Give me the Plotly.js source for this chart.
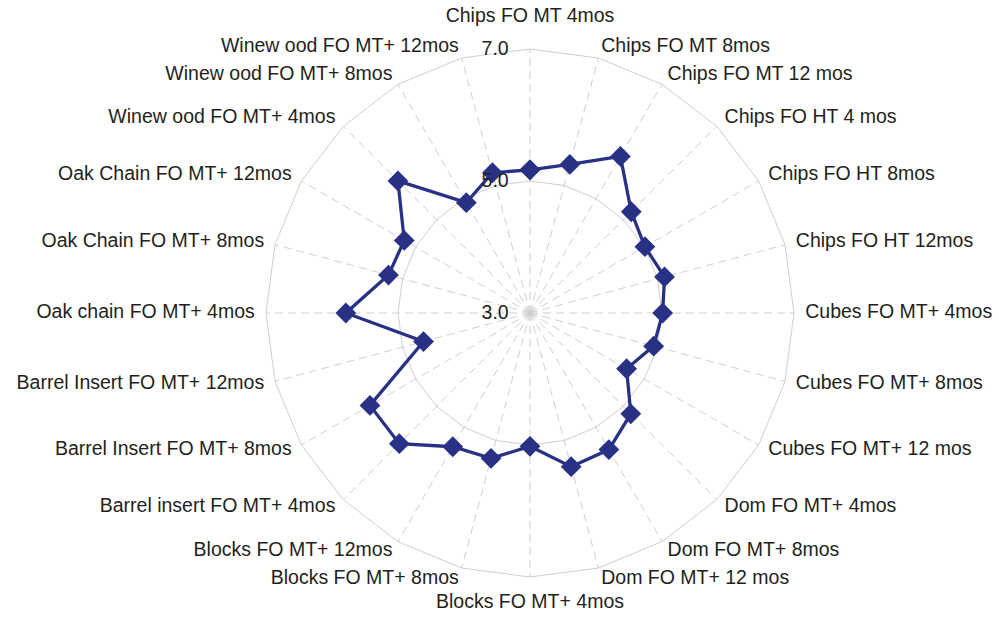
<!DOCTYPE html>
<html>
<head>
<meta charset="utf-8">
<script src="https://cdn.plot.ly/plotly-3.0.1.min.js"></script>
<style>html,body{margin:0;padding:0;background:#fff;}#chart{width:999px;height:618px;}</style>
</head>
<body>
<div id="chart"></div>
<script>
var categories = [
  "Chips FO MT 4mos", "Chips FO MT 8mos", "Chips FO MT 12 mos",
  "Chips FO HT 4 mos", "Chips FO HT 8mos", "Chips FO HT 12mos",
  "Cubes FO MT+ 4mos", "Cubes FO MT+ 8mos", "Cubes FO MT+ 12 mos",
  "Dom FO MT+ 4mos", "Dom FO MT+ 8mos", "Dom FO MT+ 12 mos",
  "Blocks FO MT+ 4mos", "Blocks FO MT+ 8mos", "Blocks FO MT+ 12mos",
  "Barrel insert FO MT+ 4mos", "Barrel Insert FO MT+ 8mos", "Barrel Insert FO MT+ 12mos",
  "Oak chain FO MT+ 4mos", "Oak Chain FO MT+ 8mos", "Oak Chain FO MT+ 12mos",
  "Winew ood FO MT+ 4mos", "Winew ood FO MT+ 8mos", "Winew ood FO MT+ 12mos"
];
var values = [
  5.17, 5.33, 5.74,
  5.17, 5.01, 5.11,
  5.01, 4.94, 4.69,
  5.16, 5.39, 5.41,
  5.02, 5.28, 5.34,
  5.80, 5.80, 4.67,
  5.79, 5.22, 5.20,
  5.83, 4.93, 5.20
];
var radialTickVals = [3, 5, 7];
var radialTickText = ["3.0", "5.0", "7.0"];

var RMIN = 3, RMAX = 7;
var TEXT_COLOR = "#231f20";
var FONT = "Liberation Sans, Arial, sans-serif";
var FONT_SIZE = 19.5;
var LINE_COLOR = "#283184";
var GRID_COLOR = "#cfcfcf";

// Geometry of the chart (pixels in a 999x618 page)
var W = 999, H = 618;
var CX = 530, CY = 313, R = 264;
// outer "label" polar shares centre and scale, with a wider range
var RMAX_OUT = 7.5;
var R_OUT = R * (RMAX_OUT - RMIN) / (RMAX - RMIN);
function dom(cx, cy, r) {
  return {
    x: [(cx - r) / W, (cx + r) / W],
    y: [(H - cy - r) / H, (H - cy + r) / H]
  };
}

var n = categories.length;
var labelPos = categories.map(function (c, i) {
  if (i === 0) return "top center";
  if (i === n / 2) return "bottom center";
  return i < n / 2 ? "middle right" : "middle left";
});
var labelR = categories.map(function (c, i) {
  if (i === 0) return 7.33;
  if (i === n / 2) return 7.25;
  return 7.17;
});

var dataTrace = {
  type: "scatterpolar",
  subplot: "polar",
  mode: "lines+markers",
  r: values.concat([values[0]]),
  theta: categories.concat([categories[0]]),
  line: {color: LINE_COLOR, width: 3.3},
  marker: {symbol: "diamond", size: 16, color: LINE_COLOR},
  cliponaxis: false,
  hoverinfo: "skip"
};

var labelTrace = {
  type: "scatterpolar",
  subplot: "polar2",
  mode: "text",
  r: labelR,
  theta: categories,
  text: categories,
  textposition: labelPos,
  textfont: {family: FONT, size: FONT_SIZE, color: TEXT_COLOR},
  cliponaxis: false,
  hoverinfo: "skip"
};

var hiddenAxis = {showgrid: false, showline: false, showticklabels: false, ticks: ""};

var layout = {
  width: W, height: H,
  margin: {l: 0, r: 0, t: 0, b: 0},
  paper_bgcolor: "#ffffff",
  showlegend: false,
  font: {family: FONT, size: FONT_SIZE, color: TEXT_COLOR},
  polar2: {
    domain: dom(CX, CY, R_OUT),
    bgcolor: "rgba(0,0,0,0)",
    gridshape: "linear",
    radialaxis: Object.assign({range: [RMIN, RMAX_OUT]}, hiddenAxis),
    angularaxis: Object.assign({
      type: "category",
      categoryarray: categories,
      rotation: 90,
      direction: "clockwise"
    }, hiddenAxis)
  },
  polar: {
    domain: dom(CX, CY, R),
    bgcolor: "rgba(0,0,0,0)",
    gridshape: "linear",
    radialaxis: {
      range: [RMIN, RMAX],
      tickvals: radialTickVals,
      ticktext: radialTickText,
      angle: 90,
      tickangle: 90,
      side: "counterclockwise",
      showline: false,
      ticks: "outside",
      ticklen: 14,
      tickcolor: "rgba(0,0,0,0)",
      showgrid: true,
      gridcolor: GRID_COLOR,
      gridwidth: 1,
      tickfont: {family: FONT, size: FONT_SIZE, color: TEXT_COLOR}
    },
    angularaxis: {
      type: "category",
      categoryarray: categories,
      rotation: 90,
      direction: "clockwise",
      showline: true,
      linecolor: GRID_COLOR,
      linewidth: 1,
      gridcolor: GRID_COLOR,
      griddash: "8px,5px",
      gridwidth: 1,
      ticks: "",
      showticklabels: false
    }
  }
};

Plotly.newPlot("chart", [labelTrace, dataTrace], layout, {displayModeBar: false, staticPlot: true});
</script>
</body>
</html>
